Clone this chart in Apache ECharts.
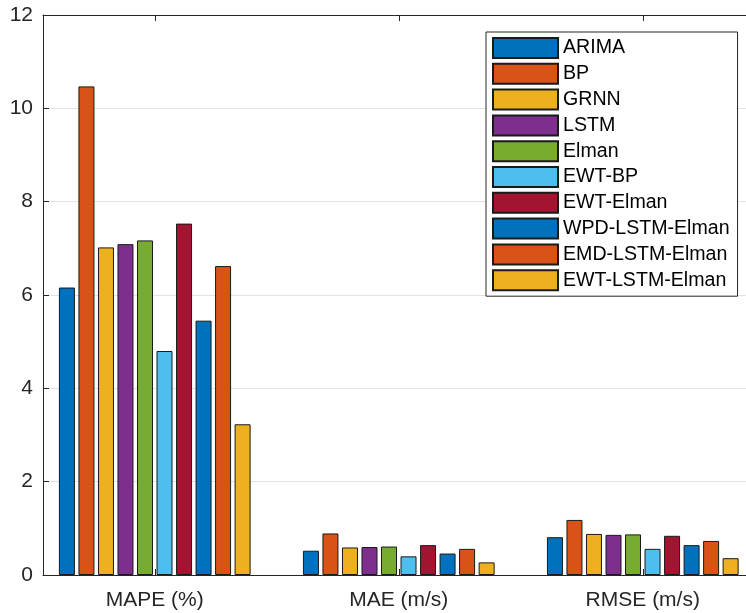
<!DOCTYPE html>
<html>
<head>
<meta charset="utf-8">
<script src="https://cdn.jsdelivr.net/npm/echarts@6/dist/echarts.min.js"></script>
<style>html,body{margin:0;padding:0;background:#fff}#c{width:746px;height:613px}</style>
</head>
<body>
<div id="c"></div>
<script>
var categories = ['MAPE (%)', 'MAE (m/s)', 'RMSE (m/s)'];
var models = ['ARIMA', 'BP', 'GRNN', 'LSTM', 'Elman', 'EWT-BP', 'EWT-Elman', 'WPD-LSTM-Elman', 'EMD-LSTM-Elman', 'EWT-LSTM-Elman'];
var mapeValues = [6.16, 10.47, 7.02, 7.09, 7.17, 4.80, 7.53, 5.45, 6.62, 3.23];
var maeValues  = [0.52, 0.89, 0.59, 0.60, 0.61, 0.40, 0.64, 0.46, 0.56, 0.27];
var rmseValues = [0.81, 1.18, 0.88, 0.86, 0.87, 0.56, 0.84, 0.64, 0.73, 0.36];
var colors = ['#0072BD', '#D95319', '#EDB120', '#7E2F8E', '#77AC30', '#4DBEEE', '#A2142F', '#0072BD', '#D95319', '#EDB120'];
var yTicks = [0, 2, 4, 6, 8, 10, 12];

var font = 'Liberation Sans, Arial, Helvetica, sans-serif';
var series = models.map(function (name, i) {
  return {
    name: name,
    type: 'bar',
    barWidth: 16,
    barGap: '22%',
    data: [[1, mapeValues[i]], [2, maeValues[i]], [3, rmseValues[i]]],
    itemStyle: { color: colors[i], borderColor: '#1a1a1a', borderWidth: 1 },
    emphasis: { disabled: true },
    animation: false
  };
});

var chart = echarts.init(document.getElementById('c'));
chart.setOption({
  backgroundColor: '#ffffff',
  animation: false,
  grid: { left: 43, right: 0, top: 15, bottom: 38, containLabel: false },
  legend: {
    orient: 'vertical',
    left: 486, top: 32,
    padding: [5, 8, 5, 6],
    itemWidth: 65, itemHeight: 20, itemGap: 3.8,
    icon: 'rect',
    borderColor: '#262626', borderWidth: 1,
    backgroundColor: '#ffffff',
    textStyle: { fontFamily: font, fontSize: 19.6, color: '#000000' },
    data: models
  },
  xAxis: [{
    type: 'value',
    min: 0.542, max: 3.423,
    position: 'bottom',
    axisLine: { show: true, lineStyle: { color: '#262626', width: 1 } },
    axisTick: { show: true, inside: true, length: 6, customValues: [1, 2, 3], lineStyle: { color: '#262626' } },
    axisLabel: {
      show: true, customValues: [1, 2, 3], margin: 15,
      fontFamily: font, fontSize: 21, color: '#262626',
      formatter: function (v) { return categories[Math.round(v) - 1]; }
    },
    splitLine: { show: false }
  }, {
    type: 'value',
    min: 0.542, max: 3.423,
    position: 'top',
    axisLine: { show: true, onZero: false, lineStyle: { color: '#262626', width: 1 } },
    axisTick: { show: true, inside: true, length: 6, customValues: [1, 2, 3], lineStyle: { color: '#262626' } },
    axisLabel: { show: false },
    splitLine: { show: false }
  }],
  yAxis: {
    type: 'value',
    min: 0, max: 12, interval: 2,
    axisLine: { show: true, lineStyle: { color: '#262626', width: 1 } },
    axisTick: { show: true, inside: true, length: 6, lineStyle: { color: '#262626' } },
    axisLabel: {
      margin: 10, fontFamily: font, fontSize: 21, color: '#262626',
      formatter: function (v) { return yTicks.indexOf(v) >= 0 ? String(v) : ''; }
    },
    splitLine: { show: true, lineStyle: { color: '#e3e3e3', width: 1 } }
  },
  series: series
});
</script>
</body>
</html>
